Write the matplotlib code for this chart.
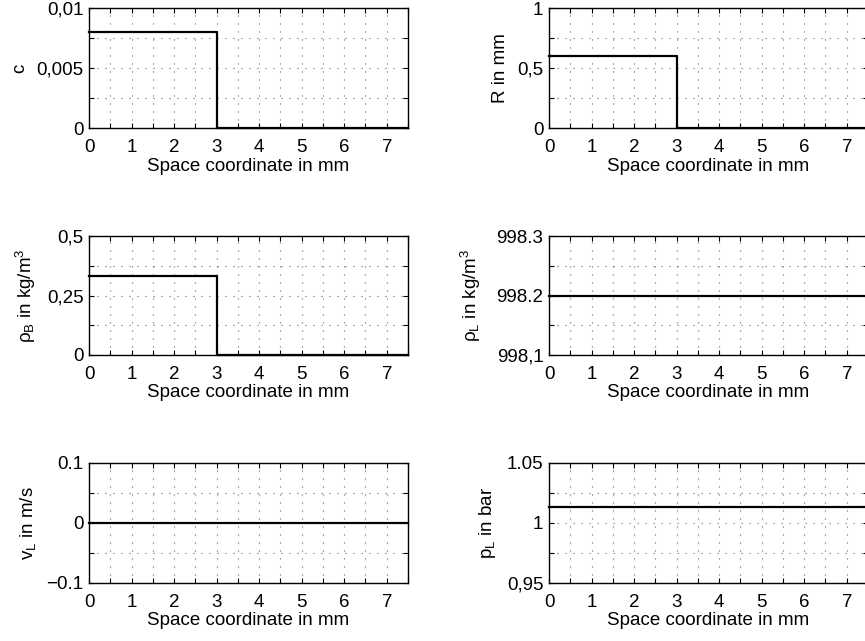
import matplotlib
matplotlib.use("Agg")
import matplotlib.pyplot as plt
from matplotlib.ticker import FixedLocator, FixedFormatter, MultipleLocator

plt.rcParams['font.family'] = ['Liberation Sans', 'DejaVu Sans']
plt.rcParams['font.size'] = 13.5
plt.rcParams['mathtext.fontset'] = 'custom'
plt.rcParams['mathtext.rm'] = 'Liberation Sans'
plt.rcParams['mathtext.it'] = 'Liberation Sans:italic'

# profiles along the space coordinate (step at 3 mm)
space_mm = [0.0, 3.0, 7.5]
conc = [0.008, 0.0, 0.0]
radius_mm = [0.6, 0.0, 0.0]
rho_bubble = [0.33, 0.0, 0.0]
rho_liquid = [998.2, 998.2, 998.2]
v_liquid = [0.0, 0.0, 0.0]
p_liquid = [1.01325, 1.01325, 1.01325]

x_ticks = [0, 1, 2, 3, 4, 5, 6, 7]

panels = [
    (conc, "c", [0, 0.005, 0.01], ["0", "0,005", "0,01"]),
    (radius_mm, "R in mm", [0, 0.5, 1], ["0", "0,5", "1"]),
    (rho_bubble, "ρ$_\\mathrm{B}$ in kg/m$^\\mathrm{3}$", [0, 0.25, 0.5], ["0", "0,25", "0,5"]),
    (rho_liquid, "ρ$_\\mathrm{L}$ in kg/m$^\\mathrm{3}$", [998.1, 998.2, 998.3], ["998,1", "998.2", "998.3"]),
    (v_liquid, "v$_\\mathrm{L}$ in m/s", [-0.1, 0, 0.1], ["\u22120.1", "0", "0.1"]),
    (p_liquid, "p$_\\mathrm{L}$ in bar", [0.95, 1, 1.05], ["0,95", "1", "1.05"]),
]

# axes placement (figure fractions) and y-label offsets
lefts = [0.1029, 0.6347]
bottoms = [0.8003, 0.4462, 0.0905]
heights = [0.1872, 0.1856, 0.1872]
width = 0.3688
label_x = [-0.19, -0.124, -0.16, -0.207, -0.16, -0.16]

fig = plt.figure(figsize=(8.65, 6.41), dpi=100)

for i, (vals, ylab, yt, ytl) in enumerate(panels):
    row, col = divmod(i, 2)
    ax = fig.add_axes([lefts[col], bottoms[row], width, heights[row]])
    ax.plot(space_mm, vals, color='black', lw=1.6, drawstyle='steps-post',
            clip_on=False, zorder=3)
    ax.set_xlim(0, 7.5)
    ax.set_ylim(yt[0], yt[-1])

    ax.xaxis.set_major_locator(FixedLocator(x_ticks))
    ax.xaxis.set_minor_locator(MultipleLocator(0.5))
    ax.yaxis.set_major_locator(FixedLocator(yt))
    ax.yaxis.set_major_formatter(FixedFormatter(ytl))
    ax.yaxis.set_minor_locator(MultipleLocator((yt[1] - yt[0]) / 2))

    ax.tick_params(which='both', direction='in', top=True, right=True,
                   length=3.5, width=0.8, color='black')
    ax.tick_params(axis='x', pad=8)
    ax.tick_params(axis='y', pad=4)

    ax.grid(which='both', color='0.4', linestyle=(0, (1, 6.2)), lw=0.8)
    for s in ax.spines.values():
        s.set_linewidth(1.0)

    ax.set_xlabel("Space coordinate in mm", labelpad=1)
    ax.set_ylabel(ylab)
    ax.yaxis.set_label_coords(label_x[i], 0.5)

fig.savefig("out.png", dpi=100)
